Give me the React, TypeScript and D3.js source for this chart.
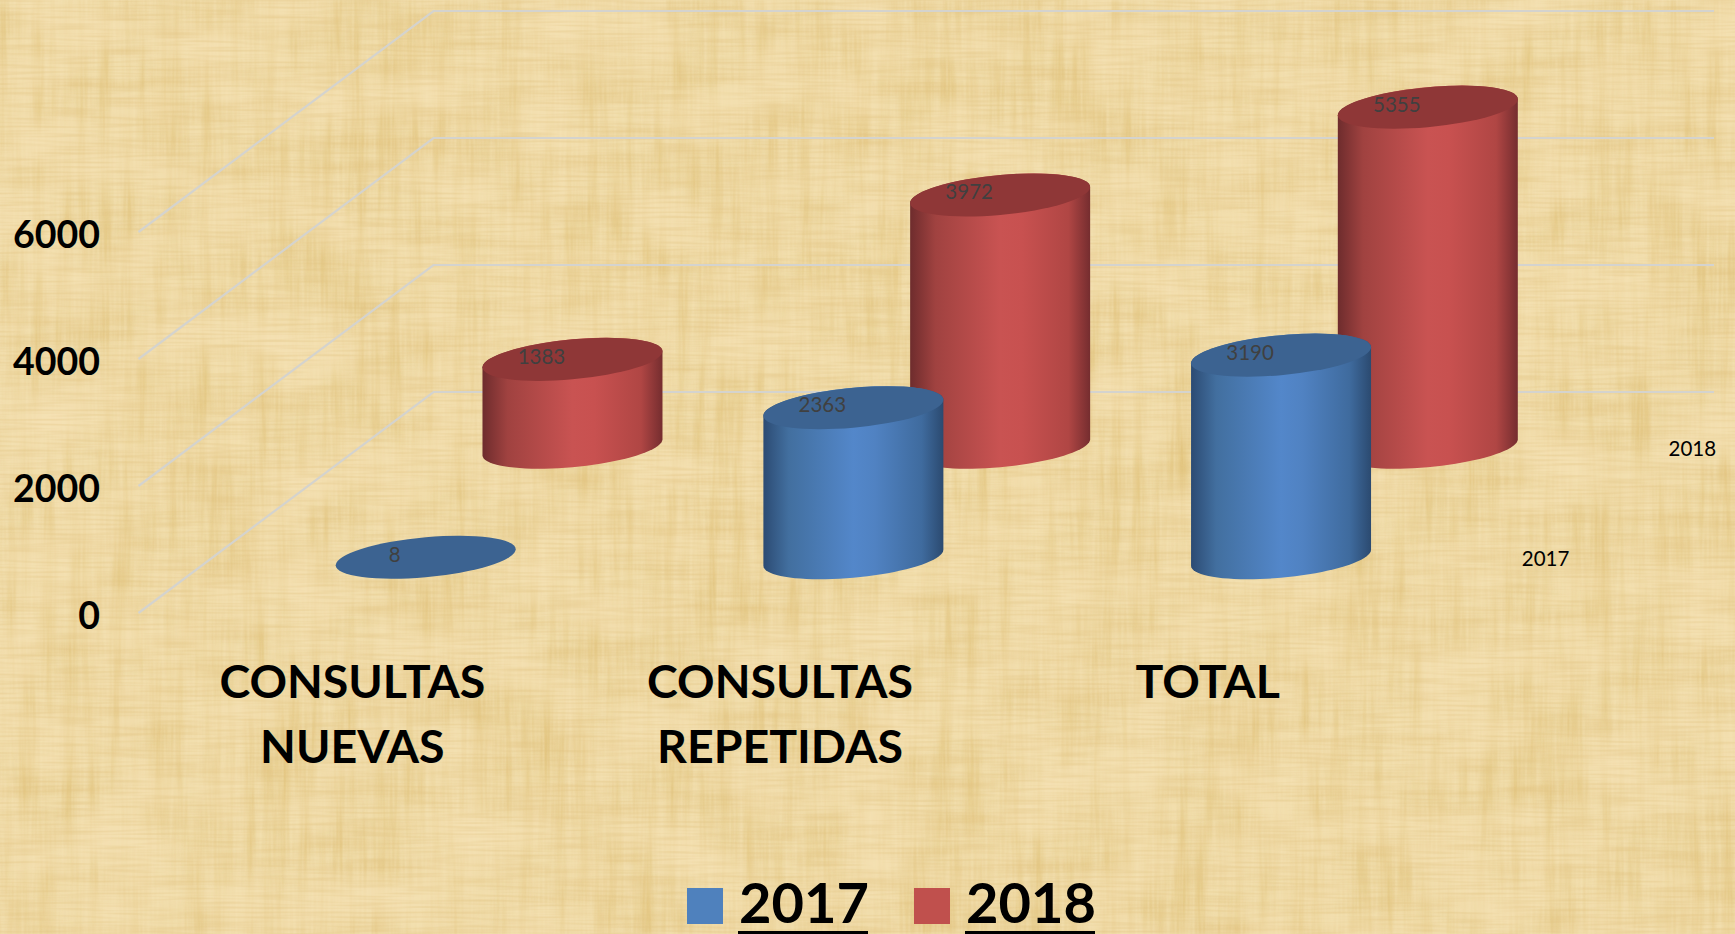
import React from "react";
import * as d3 from "d3";

const categories = ["CONSULTAS NUEVAS", "CONSULTAS REPETIDAS", "TOTAL"];
const categoryLines = [["CONSULTAS", "NUEVAS"], ["CONSULTAS", "REPETIDAS"], ["TOTAL"]];
const seriesNames = ["2017", "2018"];
const values2017 = [8, 2363, 3190];
const values2018 = [1383, 3972, 5355];
const yTicks = [0, 2000, 4000, 6000];

const W = 1735, H = 934;
const depth = { dx: 295, dy: -221 };
const x = d3.scaleBand<string>().domain(categories).range([138.5, 1421.5]);
const y = d3.scaleLinear().domain([0, 6000]).range([613, 232]);
const z = d3.scaleBand<string>().domain(seriesNames).range([0, 0.995]);
const backRight = 1714;

const rx = 90, skew = 8, ry = 20;
const project = (c: string, s: string, v: number) => {
  const d = (z(s) as number) + z.bandwidth() / 2;
  return {
    x: (x(c) as number) + x.bandwidth() / 2 + depth.dx * d,
    y: y(v) + (depth.dy - 1.2) * d,
  };
};

const halfArc = d3.range(0, 41).map((i) => Math.PI - (i / 40) * Math.PI);
const line = d3.line<[number, number]>();

function Cylinder({ c, s, v, side, top }: any) {
  const t = project(c, s, v);
  const b = project(c, s, 0);
  const lower = halfArc.map((a) => [b.x + rx * Math.cos(a), b.y - skew * Math.cos(a) + ry * Math.sin(a)] as [number, number]);
  const upper = halfArc.map((a) => [t.x - rx * Math.cos(a), t.y + skew * Math.cos(a) - ry * Math.sin(a)] as [number, number]);
  const body = line([...lower, ...upper]) + "Z";
  return (
    <g>
      {v > 50 && <path d={body} fill={`url(#${side})`} />}
      <ellipse cx={0} cy={0} rx={1} ry={1} transform={`matrix(${rx},${-skew},0,${ry},${t.x},${t.y})`} fill={top} />
      <text x={t.x - 31} y={t.y - 3} dy="0.36em" textAnchor="middle" fontFamily="Lato" fontSize={20.5} fill="#404040">{v}</text>
    </g>
  );
}

export default function App() {
  const gridColor = "#d4d3ce";
  return (
    <svg width={W} height={H} viewBox={`0 0 ${W} ${H}`} style={{ position: "absolute", left: 0, top: 0, display: "block" }}>
      <defs>
        <filter id="paper" filterUnits="userSpaceOnUse" x={0} y={0} width={W} height={H} colorInterpolationFilters="sRGB">
          <feTurbulence type="fractalNoise" baseFrequency="0.09 0.006" numOctaves={2} seed={4} result="nv" />
          <feColorMatrix in="nv" type="matrix" values="0 0 0 0 0.85  0 0 0 0 0.71  0 0 0 0 0.38  1.2 0 0 0 -0.47" result="vert0" />
          <feGaussianBlur in="vert0" stdDeviation="1.4" result="vert" />
          <feTurbulence type="fractalNoise" baseFrequency="0.006 0.08" numOctaves={2} seed={9} result="nh" />
          <feColorMatrix in="nh" type="matrix" values="0 0 0 0 0.87  0 0 0 0 0.74  0 0 0 0 0.46  1.0 0 0 0 -0.4" result="horiz0" />
          <feGaussianBlur in="horiz0" stdDeviation="1.4" result="horiz" />
          <feTurbulence type="fractalNoise" baseFrequency="0.012 0.016" numOctaves={2} seed={15} result="nb" />
          <feColorMatrix in="nb" type="matrix" values="0 0 0 0 0.96  0 0 0 0 0.88  0 0 0 0 0.70  1.8 0 0 0 -0.6" result="blotch" />
          <feTurbulence type="fractalNoise" baseFrequency="0.42 0.02" numOctaves={1} seed={21} result="nf" />
          <feColorMatrix in="nf" type="matrix" values="0 0 0 0 0.96  0 0 0 0 0.89  0 0 0 0 0.71  1.0 0 0 0 -0.36" result="fine" />
          <feTurbulence type="fractalNoise" baseFrequency="0.02 0.42" numOctaves={1} seed={27} result="ng" />
          <feColorMatrix in="ng" type="matrix" values="0 0 0 0 0.88  0 0 0 0 0.76  0 0 0 0 0.5  1.0 0 0 0 -0.42" result="fine2" />
          <feMerge>
            <feMergeNode in="SourceGraphic" />
            <feMergeNode in="vert" />
            <feMergeNode in="horiz" />
            <feMergeNode in="blotch" />
            <feMergeNode in="fine" />
            <feMergeNode in="fine2" />
          </feMerge>
        </filter>
        <linearGradient id="sideRed" x1="0" x2="1" y1="0" y2="0">
          <stop offset="0" stopColor="#6e2c2d" />
          <stop offset="0.14" stopColor="#a04240" />
          <stop offset="0.5" stopColor="#c95352" />
          <stop offset="0.62" stopColor="#c85150" />
          <stop offset="0.88" stopColor="#b04644" />
          <stop offset="1" stopColor="#752d2f" />
        </linearGradient>
        <linearGradient id="sideBlue" x1="0" x2="1" y1="0" y2="0">
          <stop offset="0" stopColor="#2c4b73" />
          <stop offset="0.14" stopColor="#426f9f" />
          <stop offset="0.5" stopColor="#5387ca" />
          <stop offset="0.62" stopColor="#5082c2" />
          <stop offset="0.88" stopColor="#3f6b9e" />
          <stop offset="1" stopColor="#2b4a70" />
        </linearGradient>
      </defs>

      <rect width={W} height={H} fill="#f0dca9" filter="url(#paper)" />

      {yTicks.map((t) => (
        <g key={t}>
          <polyline
            points={`${x.range()[0]},${y(t)} ${x.range()[0] + depth.dx},${y(t) + depth.dy} ${backRight},${y(t) + depth.dy}`}
            fill="none" stroke={gridColor} strokeWidth={2.2}
          />
          <text x={100} y={y(t) + 3} dy="0.35em" textAnchor="end" fontFamily="Lato" fontWeight={700} fontSize={37.5} fill="#000">{t}</text>
        </g>
      ))}

      {categories.map((c, i) => (
        <Cylinder key={c} c={c} s="2018" v={values2018[i]} side="sideRed" top="#8f3737" />
      ))}
      {categories.map((c, i) => (
        <Cylinder key={c} c={c} s="2017" v={values2017[i]} side="sideBlue" top="#3c6391" />
      ))}

      {seriesNames.map((s) => {
        const p = project(categories[2], s, 0);
        return (
          <text key={s} x={p.x + 264.5} y={p.y + 1} dy="0.36em" textAnchor="middle" fontFamily="Lato" fontSize={20.5} fill="#000">{s}</text>
        );
      })}

      {categories.map((c, i) => (
        <text key={c} textAnchor="middle" fontFamily="Lato" fontWeight={700} fontSize={46.5} fill="#000">
          {categoryLines[i].map((l, k) => (
            <tspan key={l} x={(x(c) as number) + x.bandwidth() / 2} y={698 + k * 65}>{l}</tspan>
          ))}
        </text>
      ))}

      {seriesNames.map((s, i) => {
        const lx = i === 0 ? 687 : 914;
        const tx = i === 0 ? 739 : 966;
        return (
          <g key={s}>
            <rect x={lx} y={888} width={36} height={36} fill={i === 0 ? "#4f81bd" : "#c0504d"} />
            <text x={tx} y={923} fontFamily="Lato" fontWeight={700} fontSize={56} fill="#000">{s}</text>
            <rect x={tx - 1} y={931} width={130} height={3} fill="#000" />
          </g>
        );
      })}
    </svg>
  );
}
